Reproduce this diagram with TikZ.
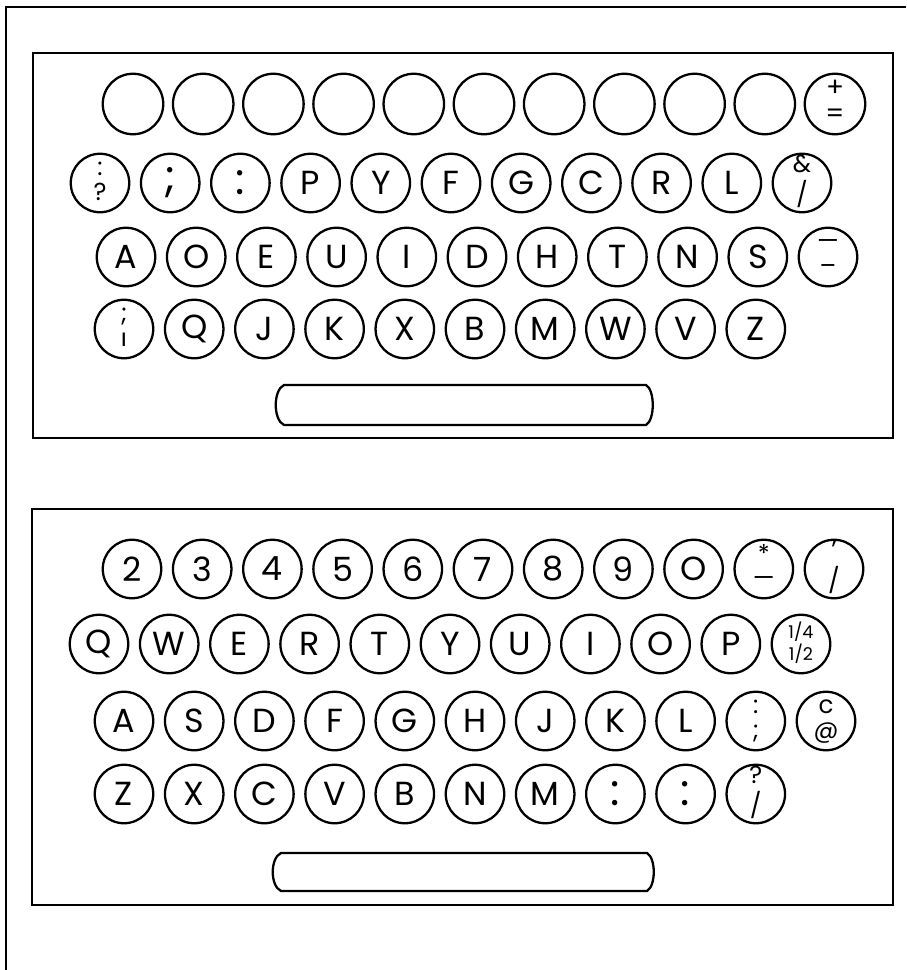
\documentclass[tikz,border=0pt]{standalone}
\usepackage{fontspec}
\setmainfont{Poppins}

\begin{document}
\begin{tikzpicture}[
    x=0.02cm, y=-0.02cm,
    frame_style/.style={line width=1.5pt},
    key_style/.style={circle, draw, line width=1.3pt, minimum size=1.17cm, inner sep=0pt, font=\fontsize{19}{19}\selectfont},
    bar_style/.style={line width=1.3pt}
]
    \useasboundingbox (0,0) rectangle (906,970);

    % --- 绘制宏 ---
    % 一排圆键: 名称前缀, 起点x, y, 键帽文字
    \newcommand{\keyrow}[4]{
        \foreach \lbl [count=\idx] in {#4} {
            \node[key_style] (#1-\idx) at ({#2+70.2*(\idx-1)}, #3) {\lbl};
        }
    }
    % 上下两个符号叠放
    \newcommand{\stk}[3][14]{{\fontsize{#1}{#1}\selectfont\begin{tabular}{@{}c@{}}#2\\#3\end{tabular}}}
    % 放大的单个标点
    \newcommand{\bigsym}[1]{{\fontsize{25}{25}\selectfont #1}}
    % 空格键 (两端外凸)
    \newcommand{\spacekey}[5]{
        \coordinate (#1) at ({(#2+#4)/2}, {(#3+#5)/2});
        \draw[bar_style] (#2+11,#3) -- (#4-9,#3)
            .. controls (#4,#3+5) and (#4,#5-5) .. (#4-9,#5)
            -- (#2+11,#5)
            .. controls (#2,#5-5) and (#2,#3+5) .. cycle;
    }

    % --- 外框 ---
    \draw[frame_style] (906,7) -- (6,7) -- (6,970);

    % --- 1. 上面的键盘 ---
    \draw[frame_style] (33,53) rectangle (893,438);
    \foreach \idx in {1,...,10} {
        \node[key_style, minimum size=1.21cm] (ta-\idx) at ({133+70.2*(\idx-1)}, 104) {};
    }
    \node[key_style, minimum size=1.21cm] (ta-11) at (835,104) {\stk[15]{+}{=}};
    \keyrow{tb}{100}{183}{\stk{:}{?},\bigsym{;},\bigsym{:},P,Y,F,G,C,R,L,\stk{\&}{/}}
    \keyrow{tc}{126}{257}{A,O,E,U,I,D,H,T,N,S,\stk{—}{–}}
    \keyrow{td}{124}{329}{\stk{;}{ı},Q,J,K,X,B,M,W,V,Z}
    \spacekey{tspace}{273}{385}{655}{425}

    % --- 2. 下面的键盘 ---
    \draw[frame_style] (32,509) rectangle (893,905);
    \keyrow{ba}{132}{569}{2,3,4,5,6,7,8,9,O,\stk{*}{—},\stk{’}{/}}
    \keyrow{bb}{99}{644}{Q,W,E,R,T,Y,U,I,O,P,\stk[10]{1/4}{1/2}}
    \keyrow{bc}{124}{721}{A,S,D,F,G,H,J,K,L,\stk{:}{;},\stk{c}{@}}
    \keyrow{bd}{124}{794}{Z,X,C,V,B,N,M,\bigsym{:},\bigsym{:},\stk{?}{/}}
    \spacekey{bspace}{270}{853}{656}{891}

\end{tikzpicture}
\end{document}
